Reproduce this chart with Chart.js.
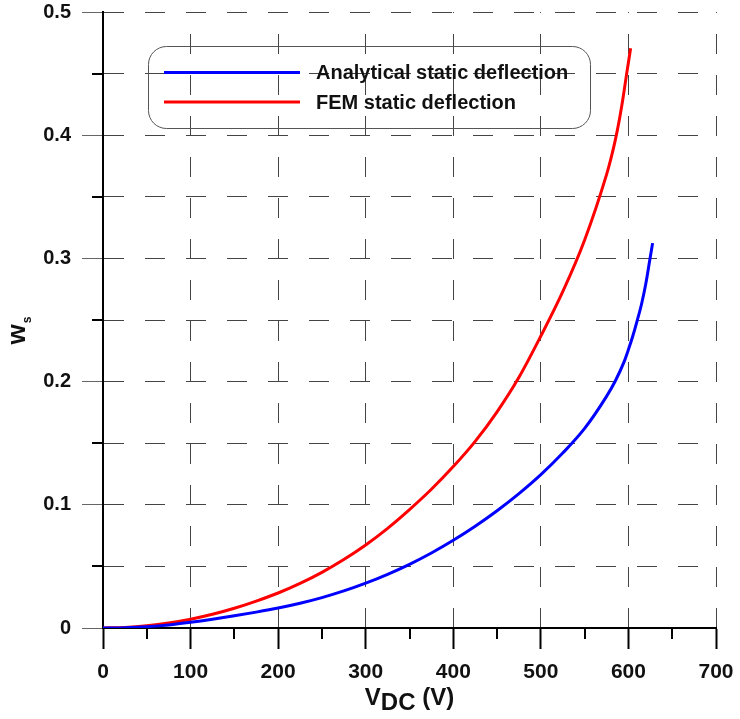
<!DOCTYPE html>
<html>
<head>
<meta charset="utf-8">
<script src="https://cdn.jsdelivr.net/npm/chart.js@4.4.1/dist/chart.umd.min.js"></script>
<style>
  html, body { margin: 0; padding: 0; background: #fff; }
  #wrap { width: 740px; height: 719px; }
</style>
</head>
<body>
<div id="wrap"><canvas id="deflection-chart" width="740" height="719"></canvas></div>
<script>
// Static deflection vs. DC voltage
const analyticalVoltage = [0, 25, 50, 75, 100, 125, 150, 175, 200, 225, 250, 275, 300, 325, 350, 375, 400, 425, 450, 475, 500, 525, 550, 575, 585, 595, 600, 605, 610, 615, 620, 624, 627.6];
const analyticalDeflection = [0, 0.0003, 0.0011, 0.0025, 0.0046, 0.0071, 0.0099, 0.0129, 0.0162, 0.0201, 0.0247, 0.0301, 0.0364, 0.0436, 0.0517, 0.0609, 0.0712, 0.0826, 0.0952, 0.1091, 0.1245, 0.142, 0.162, 0.188, 0.2005, 0.216, 0.226, 0.237, 0.2495, 0.263, 0.28, 0.297, 0.3124];

const femVoltage = [0, 25, 50, 75, 100, 125, 150, 175, 200, 225, 250, 275, 300, 325, 350, 375, 400, 425, 450, 475, 500, 525, 550, 575, 580, 585, 590, 594, 598, 602.5];
const femDeflection = [0, 0.0005, 0.0018, 0.004, 0.0071, 0.0111, 0.016, 0.0218, 0.0284, 0.0362, 0.0452, 0.0556, 0.0674, 0.0809, 0.0961, 0.1126, 0.131, 0.1515, 0.1755, 0.2035, 0.237, 0.273, 0.315, 0.368, 0.381, 0.396, 0.414, 0.431, 0.45, 0.4705];

const seriesLabels = ['Analytical static deflection', 'FEM static deflection'];
const seriesColors = ['#0000ff', '#ff0000'];

const xTicks = [0, 100, 200, 300, 400, 500, 600, 700];
const yTicks = [0, 0.1, 0.2, 0.3, 0.4, 0.5];

const FONT = "'Liberation Sans', Arial, sans-serif";

function toPoints(xs, ys) {
    return xs.map((x, i) => ({ x: x, y: ys[i] }));
}

function isMajor(list, v) {
    return list.some(t => Math.abs(t - v) < 1e-6);
}

// short thick minor ticks, plus the axis titles and the boxed legend
const decorations = {
    id: 'decorations',
    afterDraw(chart) {
        const c = chart.ctx;
        const area = chart.chartArea;
        const xs = chart.scales.x;
        const ys = chart.scales.y;

        c.save();
        c.strokeStyle = '#000';
        c.lineWidth = 2;
        xs.ticks.forEach(t => {
            if (isMajor(xTicks, t.value)) return;
            const px = Math.round(xs.getPixelForValue(t.value));
            c.beginPath();
            c.moveTo(px, area.bottom);
            c.lineTo(px, area.bottom + 11);
            c.stroke();
        });
        ys.ticks.forEach(t => {
            if (isMajor(yTicks, t.value)) return;
            const py = Math.round(ys.getPixelForValue(t.value));
            c.beginPath();
            c.moveTo(area.left - 11, py);
            c.lineTo(area.left, py);
            c.stroke();
        });

        // x title: V with DC subscript
        c.fillStyle = '#111';
        c.textBaseline = 'alphabetic';
        c.textAlign = 'left';
        c.font = 'bold 24px ' + FONT;
        const wV = c.measureText('V').width;
        const wDC = c.measureText('DC').width;
        const wRest = c.measureText(' (V)').width;
        const x0 = (area.left + area.right) / 2 - (wV + wDC + wRest) / 2;
        const base = 705;
        c.fillText('V', x0, base);
        c.fillText('DC', x0 + wV, base + 5);
        c.fillText(' (V)', x0 + wV + wDC, base);

        // y title: w with s subscript, rotated
        c.translate(25, 331);
        c.rotate(-Math.PI / 2);
        c.font = 'bold 26px ' + FONT;
        const ww = c.measureText('w').width;
        c.font = 'bold 12px ' + FONT;
        const ws = c.measureText('s').width;
        const start = -(ww + ws) / 2;
        c.font = 'bold 26px ' + FONT;
        c.fillText('w', start, 0);
        c.font = 'bold 12px ' + FONT;
        c.fillText('s', start + ww + 1, 6);
        c.restore();

        // legend box
        const lx = area.left + 45, ly = area.top + 34, lw = 442, lh = 82;
        c.save();
        c.strokeStyle = '#555';
        c.lineWidth = 1;
        c.beginPath();
        c.roundRect(lx + 0.5, ly + 0.5, lw, lh, 18);
        c.stroke();
        c.font = 'bold 20px ' + FONT;
        c.textBaseline = 'middle';
        c.fillStyle = '#111';
        chart.data.datasets.forEach((ds, i) => {
            const rowY = ly + 26.5 + i * 29.5;
            c.strokeStyle = ds.borderColor;
            c.lineWidth = 3;
            c.beginPath();
            c.moveTo(lx + 16, rowY);
            c.lineTo(lx + 152, rowY);
            c.stroke();
            c.fillText(ds.label, lx + 168, rowY + 1);
        });
        c.restore();
    }
};

new Chart(document.getElementById('deflection-chart'), {
    type: 'scatter',
    data: {
        datasets: [
            {
                label: seriesLabels[0],
                data: toPoints(analyticalVoltage, analyticalDeflection),
                borderColor: seriesColors[0],
                backgroundColor: seriesColors[0]
            },
            {
                label: seriesLabels[1],
                data: toPoints(femVoltage, femDeflection),
                borderColor: seriesColors[1],
                backgroundColor: seriesColors[1]
            }
        ]
    },
    options: {
        responsive: false,
        devicePixelRatio: 1,
        animation: false,
        layout: { padding: { left: 0, top: 12, right: 24, bottom: 0 } },
        elements: {
            line: { borderWidth: 3, cubicInterpolationMode: 'monotone', fill: false },
            point: { radius: 0 }
        },
        datasets: { scatter: { showLine: true } },
        plugins: {
            legend: { display: false },
            tooltip: { enabled: false }
        },
        scales: {
            x: {
                type: 'linear',
                min: 0,
                max: 700,
                afterFit: s => { s.height = 91; s.paddingLeft = 0; s.paddingRight = 0; },
                ticks: {
                    stepSize: 50,
                    padding: 11,
                    maxRotation: 0,
                    color: '#111',
                    font: { family: FONT, size: 21, weight: 'bold' },
                    callback: v => isMajor(xTicks, v) ? String(v) : ''
                },
                grid: {
                    color: ctx => (ctx.tick && isMajor(xTicks, ctx.tick.value) && ctx.tick.value !== 0) ? '#444' : 'rgba(0,0,0,0)',
                    lineWidth: 1,
                    tickLength: 21,
                    tickWidth: 2,
                    tickColor: ctx => (ctx.tick && isMajor(xTicks, ctx.tick.value)) ? '#000' : 'rgba(0,0,0,0)'
                },
                border: { display: true, color: '#000', width: 2, dash: [20, 21], dashOffset: 19 }
            },
            y: {
                type: 'linear',
                min: 0,
                max: 0.5,
                afterFit: s => { s.width = 103; s.paddingTop = 0; s.paddingBottom = 0; },
                ticks: {
                    stepSize: 0.05,
                    padding: 11,
                    color: '#111',
                    font: { family: FONT, size: 20, weight: 'bold' },
                    callback: v => isMajor(yTicks, v) ? String(+v.toFixed(2)) : ''
                },
                grid: {
                    color: ctx => (ctx.tick && ctx.tick.value > 1e-6) ? '#444' : 'rgba(0,0,0,0)',
                    lineWidth: 1,
                    tickLength: 21,
                    tickWidth: 1,
                    tickColor: ctx => (ctx.tick && isMajor(yTicks, ctx.tick.value)) ? '#666' : 'rgba(0,0,0,0)'
                },
                border: { display: true, color: '#000', width: 2, dash: [20, 21], dashOffset: 0 }
            }
        }
    },
    plugins: [decorations]
});
</script>
</body>
</html>
